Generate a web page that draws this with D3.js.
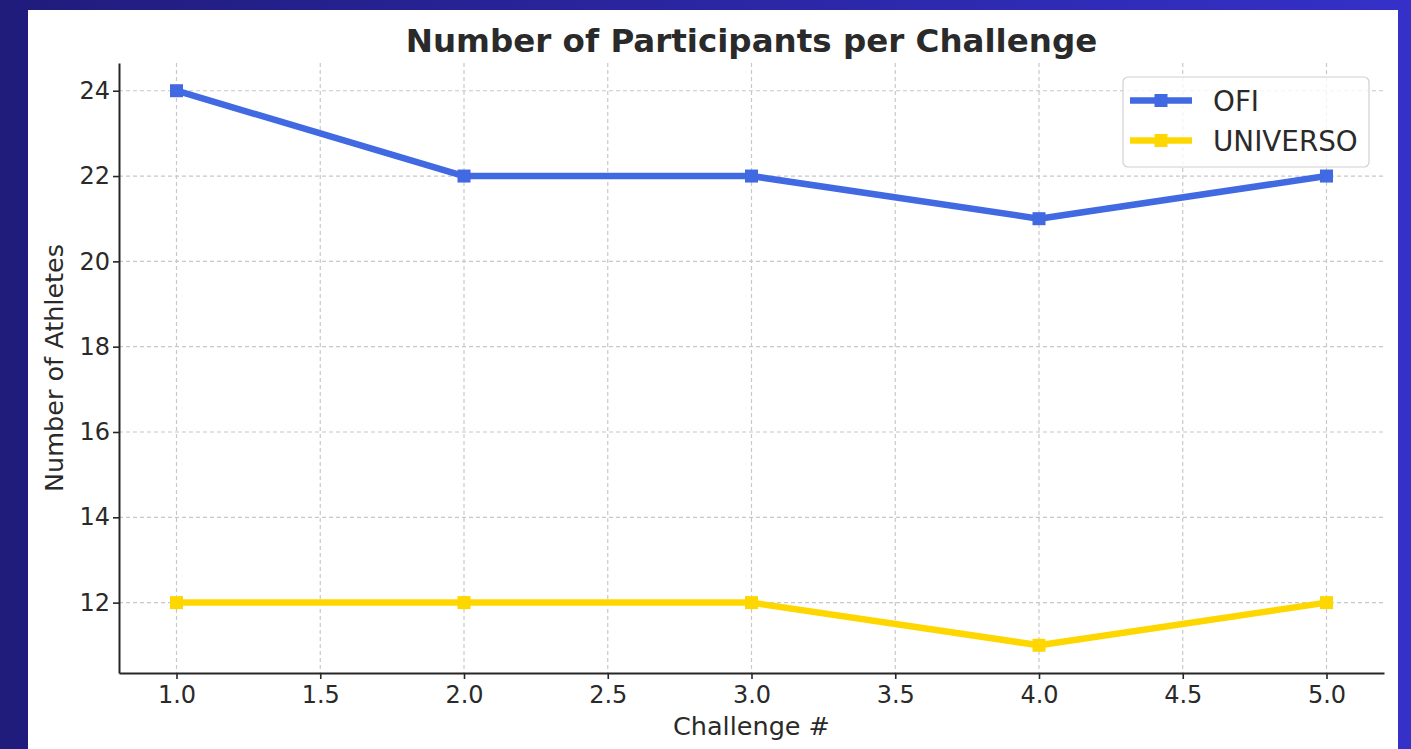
<!DOCTYPE html>
<html><head><meta charset="utf-8">
<script src="https://cdn.jsdelivr.net/npm/d3@7/dist/d3.min.js"></script>
<style>html,body{margin:0;padding:0;overflow:hidden;}</style>
</head><body>
<svg id="c" width="1411" height="749"></svg>
<script>
const challenges = [1, 2, 3, 4, 5];
const ofi = [24, 22, 22, 21, 22];
const universo = [12, 12, 12, 11, 12];
const xTicks = [1.0, 1.5, 2.0, 2.5, 3.0, 3.5, 4.0, 4.5, 5.0];
const yTicks = [12, 14, 16, 18, 20, 22, 24];
const seriesNames = ["OFI", "UNIVERSO"];
const seriesColors = ["#4169E1", "#FFD700"];

const svg = d3.select("#c");
const defs = svg.append("defs");
const g1 = defs.append("linearGradient").attr("id","bg").attr("x1","0").attr("x2","1").attr("y1","0").attr("y2","0");
g1.append("stop").attr("offset","0").attr("stop-color","#201C7C");
g1.append("stop").attr("offset","1").attr("stop-color","#3530C8");
svg.append("rect").attr("width",1411).attr("height",749).attr("fill","url(#bg)");
svg.append("rect").attr("x",28).attr("y",10).attr("width",1370).attr("height",739).attr("fill","#fff");

const L = 119, R = 1384, T = 63, B = 673;
const x = d3.scaleLinear().domain([0.8, 5.2]).range([L, R]);
const y = d3.scaleLinear().domain([10.35, 24.65]).range([B, T]);

const font = "DejaVu Sans, sans-serif";
const txt = "#2a2a2a";

// grid
const grid = svg.append("g").attr("stroke","#c8c8c8").attr("stroke-width",1.2).attr("stroke-dasharray","4,3");
grid.selectAll(".gx").data(xTicks).join("line").attr("x1",d=>x(d)).attr("x2",d=>x(d)).attr("y1",T).attr("y2",B);
grid.selectAll(".gy").data(yTicks).join("line").attr("y1",d=>y(d)).attr("y2",d=>y(d)).attr("x1",L).attr("x2",R);

// axes
const xAxis = d3.axisBottom(x).tickValues(xTicks).tickFormat(d3.format(".1f")).tickSize(6).tickSizeOuter(0).tickPadding(7);
const yAxis = d3.axisLeft(y).tickValues(yTicks).tickFormat(d3.format("d")).tickSize(6).tickSizeOuter(0).tickPadding(3);
const gx = svg.append("g").attr("transform",`translate(0,${B})`).call(xAxis);
const gy = svg.append("g").attr("transform",`translate(${L},0)`).call(yAxis);
[gx, gy].forEach(g => {
  g.select(".domain").attr("stroke","#262626").attr("stroke-width",2);
  g.selectAll(".tick line").attr("stroke","#262626").attr("stroke-width",1.6);
  g.selectAll(".tick text").attr("fill",txt).style("font-family",font).style("font-size","24px");
});

// lines
const lineGen = d3.line().x((d,i)=>x(challenges[i])).y(d=>y(d));
[ofi, universo].forEach((s, k) => {
  svg.append("path").datum(s).attr("d", lineGen).attr("fill","none")
    .attr("stroke", seriesColors[k]).attr("stroke-width",6.5).attr("stroke-linejoin","round").attr("stroke-linecap","butt");
  svg.append("g").selectAll("rect").data(s).join("rect")
    .attr("x",(d,i)=>x(challenges[i])-6.5).attr("y",d=>y(d)-6.5).attr("width",13).attr("height",13)
    .attr("fill", seriesColors[k]);
});

// title & labels
svg.append("text").attr("x",(L+R)/2).attr("y",52).attr("text-anchor","middle")
  .style("font-family",font).style("font-weight","bold").style("font-size","32.5px").attr("fill",txt)
  .text("Number of Participants per Challenge");
svg.append("text").attr("x",(L+R)/2).attr("y",735).attr("text-anchor","middle")
  .style("font-family",font).style("font-size","25.5px").attr("fill",txt).text("Challenge #");
svg.append("text").attr("transform",`translate(63,${(T+B)/2}) rotate(-90)`).attr("text-anchor","middle")
  .style("font-family",font).style("font-size","25.5px").attr("fill",txt).text("Number of Athletes");

// legend
const lg = svg.append("g");
lg.append("rect").attr("x",1123).attr("y",77).attr("width",246).attr("height",90).attr("rx",5)
  .attr("fill","#fff").attr("fill-opacity",0.8).attr("stroke","#d0d0d0").attr("stroke-width",1.2);
seriesNames.forEach((n, k) => {
  const yy = 100.5 + k * 40;
  lg.append("line").attr("x1",1130).attr("x2",1192).attr("y1",yy).attr("y2",yy)
    .attr("stroke",seriesColors[k]).attr("stroke-width",6.5);
  lg.append("rect").attr("x",1154.5).attr("y",yy-6.5).attr("width",13).attr("height",13).attr("fill",seriesColors[k]);
  lg.append("text").attr("x",1213).attr("y",yy+10.5).style("font-family",font).style("font-size","27.8px")
    .attr("fill",txt).text(n);
});
</script>
</body></html>
